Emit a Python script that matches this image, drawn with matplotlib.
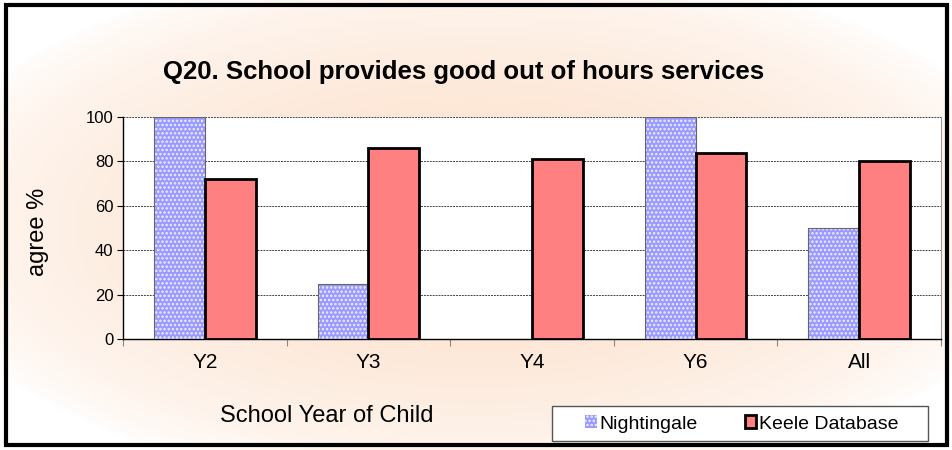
import numpy as np
import matplotlib.pyplot as plt
from matplotlib.patches import Rectangle

plt.rcParams['font.family'] = ['Liberation Sans', 'DejaVu Sans']
plt.rcParams['hatch.linewidth'] = 1.2

categories = ["Y2", "Y3", "Y4", "Y6", "All"]
nightingale = [100, 25, 0, 100, 50]
keele = [72, 86, 81, 84, 80]

fig = plt.figure(figsize=(9.53, 4.5), dpi=100)

# peach glow background
bg = fig.add_axes([0, 0, 1, 1], zorder=0)
yy, xx = np.mgrid[0:1:300j, 0:1:600j]
d = np.sqrt(((xx - 0.5) / 0.6) ** 2 + ((yy - 0.5) / 0.6) ** 2)
t = np.clip(1 - d, 0, 1) ** 0.6
white = np.array([1.0, 1.0, 1.0])
peach = np.array([0.99, 0.87, 0.78])
img = white + (peach - white) * t[..., None]
bg.imshow(img, extent=[0, 1, 0, 1], aspect='auto')
bg.axis('off')

ax = fig.add_axes([123 / 953, 1 - 339 / 450, 818 / 953, 222 / 450], zorder=1)
ax.set_facecolor('white')

x = np.arange(len(categories))
w = 0.31
ax.bar(x - w / 2, nightingale, w, facecolor='#9999FF', edgecolor='#EEEEFF',
       hatch='....', linewidth=0, zorder=3, label='Nightingale')
ax.bar(x - w / 2, nightingale, w, facecolor='none', edgecolor='#666666',
       linewidth=0.8, zorder=4)
ax.bar(x + w / 2, keele, w, color='#FF8080', edgecolor='black',
       linewidth=2, zorder=4, label='Keele Database')

ax.set_xlim(-0.5, len(categories) - 0.5)
ax.set_ylim(0, 100)
ax.set_yticks([0, 20, 40, 60, 80, 100])
ax.yaxis.grid(True, linestyle=(0, (2, 1)), color='#444444', linewidth=0.7, zorder=0)
ax.set_xticks(np.arange(len(categories) + 1) - 0.5, minor=False)
ax.set_xticklabels([])
ax.set_xticks(x, minor=True)
ax.set_xticklabels(categories, minor=True, fontsize=15)
ax.tick_params(axis='x', which='minor', length=0, pad=10)
ax.tick_params(axis='x', which='major', length=5, color='#888888')
ax.tick_params(axis='y', labelsize=12, length=4, pad=3)

for s in ['top', 'right']:
    ax.spines[s].set_visible(False)
ax.plot([1, 1], [0, 1], transform=ax.transAxes, color='#999999', lw=0.8, clip_on=False)
ax.spines['left'].set_linewidth(1)
ax.spines['bottom'].set_linewidth(1)

fig.text(464 / 953, 1 - 72 / 450, "Q20. School provides good out of hours services",
         ha='center', va='center', fontsize=18.5, fontweight='bold')
fig.text(38 / 953, 1 - 232 / 450, "agree %", rotation=90, ha='center', va='center', fontsize=17)
fig.text(327 / 953, 1 - 416 / 450, "School Year of Child", ha='center', va='center', fontsize=17)

# legend box drawn separately so it can be wider than the entries
fig.patches.append(Rectangle((552 / 953, 1 - 441 / 450), 376 / 953, 35 / 450,
                             transform=fig.transFigure, facecolor='white',
                             edgecolor='#555555', linewidth=1, zorder=2))
leg = fig.legend(loc='center', bbox_to_anchor=(742 / 953, 1 - 424 / 450), ncol=2,
                 fontsize=14, frameon=False, handlelength=0.6,
                 handleheight=0.6, handletextpad=0.15, columnspacing=2.4,
                 borderpad=0.4)
leg.set_zorder(3)

fig.patches.append(Rectangle((6 / 953, 5 / 450), 941 / 953, 440 / 450,
                             transform=fig.transFigure, fill=False,
                             edgecolor='black', linewidth=3, zorder=5))

fig.savefig('out.png', dpi=100)
